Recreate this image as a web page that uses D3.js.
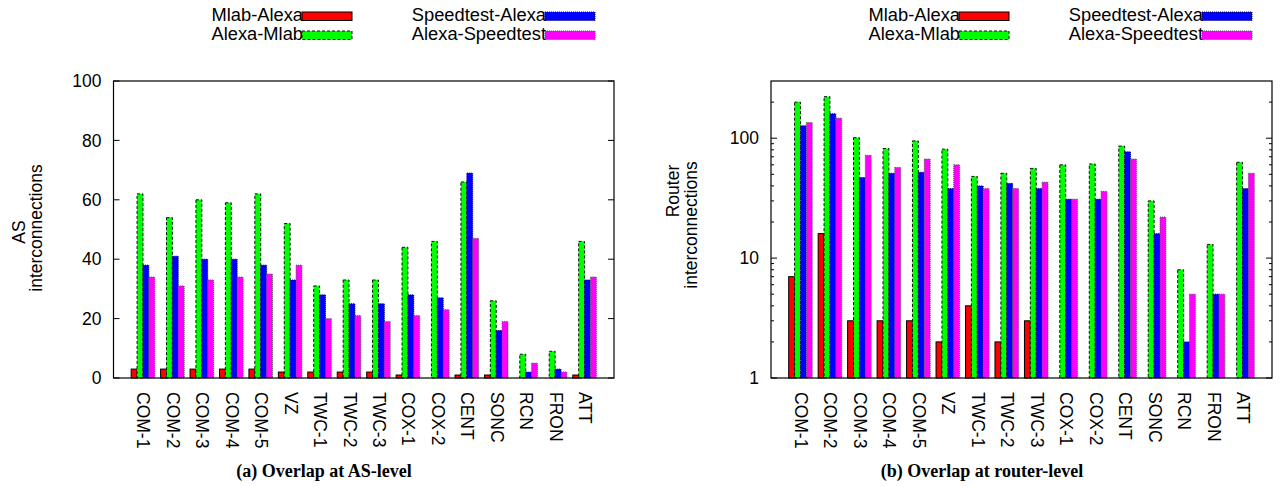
<!DOCTYPE html>
<html>
<head>
<meta charset="utf-8">
<script src="https://cdn.jsdelivr.net/npm/d3@7"></script>
<style>
  html, body { margin: 0; padding: 0; background: #fff; }
  svg { display: block; }
</style>
</head>
<body>
<svg id="chart" width="1283" height="487"></svg>
<script>
// ---------- data ----------
const categories = ["COM-1","COM-2","COM-3","COM-4","COM-5","VZ","TWC-1","TWC-2","TWC-3","COX-1","COX-2","CENT","SONC","RCN","FRON","ATT"];
const seriesNames = ["Mlab-Alexa","Alexa-Mlab","Speedtest-Alexa","Alexa-Speedtest"];

// (a) AS-level
const asMlabAlexa      = [3,3,3,3,3,2,2,2,2,1,0,1,1,0,0,1];
const asAlexaMlab      = [62,54,60,59,62,52,31,33,33,44,46,66,26,8,9,46];
const asSpeedtestAlexa = [38,41,40,40,38,33,28,25,25,28,27,69,16,2,3,33];
const asAlexaSpeedtest = [34,31,33,34,35,38,20,21,19,21,23,47,19,5,2,34];
const asTicks = [0,20,40,60,80,100];

// (b) router-level
const rtMlabAlexa      = [7,16,3,3,3,2,4,2,3,null,null,null,null,null,null,null];
const rtAlexaMlab      = [200,222,101,82,95,81,48,51,56,60,61,86,30,8,13,63];
const rtSpeedtestAlexa = [127,160,47,51,52,38,40,42,38,31,31,77,16,2,5,38];
const rtAlexaSpeedtest = [135,147,72,57,67,60,38,38,43,31,36,67,22,5,5,51];
const rtTicks = [1,10,100];

const captions = ["(a) Overlap at AS-level", "(b) Overlap at router-level"];

// ---------- styles ----------
const fills = ["#ff0000","#00ff00","#0000ff","#ff00ff"];
const strokes = ["#000","#111","#000066","#555"];
const dashes = [null,"3,2","1,1","1,1"];
const FS = 17.5;
const LFS = 18.3;
const SANS = "'Liberation Sans', Arial, Helvetica, sans-serif";
const SERIF = "'Liberation Serif', 'Times New Roman', serif";

const svg = d3.select("#chart");

function drawPanel(cfg) {
  const g = svg.append("g");
  const x = d3.scaleLinear().domain([-1, categories.length]).range([cfg.left, cfg.right]);
  const y = cfg.y;
  const unit = x(1) - x(0);
  const bw = unit * 0.2;
  const offsets = [-0.3, -0.1, 0.1, 0.3];

  // bars
  cfg.series.forEach((vals, s) => {
    g.append("g").selectAll("rect")
      .data(vals.map((v, i) => ({v, i})).filter(d => d.v !== null && (!cfg.log || d.v > 0)))
      .join("rect")
      .attr("x", d => x(d.i + offsets[s]) - bw / 2)
      .attr("width", bw)
      .attr("y", d => y(d.v))
      .attr("height", d => Math.max(0, y(cfg.base) - y(d.v)))
      .attr("fill", fills[s])
      .attr("stroke", strokes[s])
      .attr("stroke-width", 1)
      .attr("stroke-dasharray", dashes[s]);
  });

  // frame
  g.append("rect")
    .attr("x", cfg.left).attr("y", y.range()[1])
    .attr("width", cfg.right - cfg.left)
    .attr("height", y.range()[0] - y.range()[1])
    .attr("fill", "none").attr("stroke", "#000").attr("stroke-width", 1.2);

  // y axis labels
  const axL = d3.axisLeft(y).tickValues(cfg.ticks).tickSize(0).tickPadding(12)
    .tickFormat(d3.format("d"));
  const gl = g.append("g").attr("transform", `translate(${cfg.left},0)`).call(axL);
  gl.select(".domain").remove();
  gl.selectAll("text").style("font-size", FS + "px").style("font-family", SANS).attr("fill", "#000");

  // inward ticks, mirrored on the right
  const tickG = g.append("g").attr("stroke", "#000").attr("stroke-width", 1);
  cfg.ticks.forEach(t => {
    tickG.append("line").attr("x1", cfg.left).attr("x2", cfg.left + 6).attr("y1", y(t)).attr("y2", y(t));
    tickG.append("line").attr("x1", cfg.right).attr("x2", cfg.right - 6).attr("y1", y(t)).attr("y2", y(t));
  });
  (cfg.minor || []).forEach(t => {
    tickG.append("line").attr("x1", cfg.left).attr("x2", cfg.left + 3).attr("y1", y(t)).attr("y2", y(t));
    tickG.append("line").attr("x1", cfg.right).attr("x2", cfg.right - 3).attr("y1", y(t)).attr("y2", y(t));
  });

  // category labels
  const axB = d3.axisBottom(x).tickValues(d3.range(categories.length)).tickSize(0)
    .tickFormat(i => categories[i]);
  const gb = g.append("g").attr("transform", `translate(0,${y.range()[0]})`).call(axB);
  gb.select(".domain").remove();
  gb.selectAll("text")
    .style("font-size", FS + "px")
    .style("font-family", SANS)
    .attr("fill", "#000")
    .attr("text-anchor", "start")
    .attr("dy", null)
    .attr("y", 0)
    .attr("dominant-baseline", "central")
    .attr("transform", "translate(0,14) rotate(90)");

  // y title
  cfg.ytitle.forEach(t => {
    g.append("text")
      .attr("transform", `translate(${t.x},${t.y}) rotate(-90)`)
      .attr("text-anchor", "middle")
      .style("font-size", FS + "px")
      .style("font-family", SANS)
      .text(t.text);
  });

  // legend
  const lg = g.append("g");
  cfg.legend.forEach((L, s) => {
    lg.append("text")
      .attr("x", L.x + 1).attr("y", L.y + 8)
      .attr("text-anchor", "end")
      .style("font-size", LFS + "px")
      .style("font-family", SANS)
      .text(seriesNames[s]);
    lg.append("rect")
      .attr("x", L.x).attr("y", L.y - 1)
      .attr("width", 50).attr("height", 8.5)
      .attr("fill", fills[s])
      .attr("stroke", strokes[s])
      .attr("stroke-width", 1)
      .attr("stroke-dasharray", dashes[s]);
  });

  // caption
  g.append("text")
    .attr("x", cfg.capX).attr("y", 477)
    .attr("text-anchor", "middle")
    .style("font-family", SERIF)
    .style("font-weight", "bold")
    .style("font-size", "18px")
    .text(cfg.caption);
}

// Panel (a)
drawPanel({
  left: 113.5, right: 614,
  y: d3.scaleLinear().domain([0, 100]).range([378, 81]),
  base: 0,
  ticks: asTicks,
  series: [asMlabAlexa, asAlexaMlab, asSpeedtestAlexa, asAlexaSpeedtest],
  ytitle: [{text: "AS", x: 25, y: 232}, {text: "interconnections", x: 41.5, y: 228}],
  legend: [{x: 302, y: 13}, {x: 302, y: 32}, {x: 545, y: 13}, {x: 545, y: 32}],
  caption: captions[0], capX: 324
});

// Panel (b)
const yLog = d3.scaleLog().domain([1, 300]).range([378, 81]);
const minorLog = [];
[1, 10, 100].forEach(d => { for (let k = 2; k <= 9; k++) if (d * k < 300) minorLog.push(d * k); });
drawPanel({
  left: 771, right: 1272,
  y: yLog,
  base: 1,
  log: true,
  ticks: rtTicks,
  minor: minorLog,
  series: [rtMlabAlexa, rtAlexaMlab, rtSpeedtestAlexa, rtAlexaSpeedtest],
  ytitle: [{text: "Router", x: 678.5, y: 191}, {text: "interconnections", x: 697, y: 225}],
  legend: [{x: 959, y: 13}, {x: 959, y: 32}, {x: 1202, y: 13}, {x: 1202, y: 32}],
  caption: captions[1], capX: 982
});
</script>
</body>
</html>
